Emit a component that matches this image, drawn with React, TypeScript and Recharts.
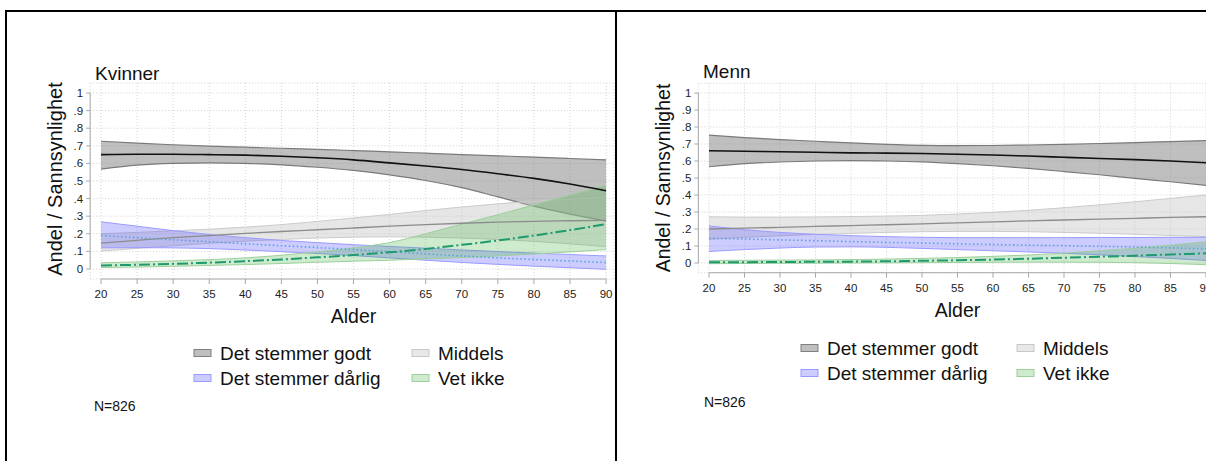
import React from 'react';
import {
  ComposedChart,
  Area,
  Line,
  XAxis,
  YAxis,
  CartesianGrid,
  ReferenceLine,
} from 'recharts';

const ages = [20, 25, 30, 35, 40, 45, 50, 55, 60, 65, 70, 75, 80, 85, 90];
const xTicks = [20, 25, 30, 35, 40, 45, 50, 55, 60, 65, 70, 75, 80, 85, 90];
const yTicks = [0, 0.1, 0.2, 0.3, 0.4, 0.5, 0.6, 0.7, 0.8, 0.9, 1];
const yTickLabels = ['0', '.1', '.2', '.3', '.4', '.5', '.6', '.7', '.8', '.9', '1'];

// Kvinner
const kvGodtMid = [0.65, 0.652, 0.652, 0.65, 0.647, 0.641, 0.632, 0.62, 0.603, 0.585, 0.565, 0.541, 0.515, 0.483, 0.445];
const kvGodtHi = [0.726, 0.715, 0.706, 0.698, 0.692, 0.686, 0.68, 0.673, 0.666, 0.658, 0.65, 0.643, 0.636, 0.628, 0.62];
const kvGodtLo = [0.568, 0.59, 0.6, 0.603, 0.6, 0.592, 0.578, 0.56, 0.535, 0.503, 0.462, 0.41, 0.357, 0.312, 0.272];
const kvMiddelsMid = [0.147, 0.163, 0.178, 0.19, 0.202, 0.213, 0.223, 0.233, 0.243, 0.252, 0.26, 0.266, 0.271, 0.274, 0.276];
const kvMiddelsHi = [0.2, 0.208, 0.217, 0.226, 0.238, 0.252, 0.27, 0.29, 0.31, 0.332, 0.352, 0.37, 0.386, 0.397, 0.405];
const kvMiddelsLo = [0.102, 0.117, 0.132, 0.146, 0.158, 0.168, 0.176, 0.181, 0.183, 0.181, 0.176, 0.168, 0.157, 0.143, 0.127];
const kvDarligMid = [0.19, 0.178, 0.166, 0.155, 0.143, 0.132, 0.122, 0.11, 0.098, 0.086, 0.074, 0.063, 0.054, 0.045, 0.037];
const kvDarligHi = [0.268, 0.243, 0.218, 0.196, 0.178, 0.162, 0.15, 0.138, 0.128, 0.118, 0.108, 0.099, 0.09, 0.082, 0.074];
const kvDarligLo = [0.12, 0.121, 0.12, 0.116, 0.108, 0.098, 0.088, 0.076, 0.063, 0.05, 0.037, 0.026, 0.016, 0.007, -0.002];
const kvVetIkkeMid = [0.02, 0.024, 0.029, 0.036, 0.044, 0.054, 0.066, 0.079, 0.095, 0.114, 0.137, 0.162, 0.19, 0.221, 0.255];
const kvVetIkkeHi = [0.035, 0.04, 0.046, 0.053, 0.063, 0.078, 0.097, 0.12, 0.15, 0.2, 0.255, 0.308, 0.364, 0.42, 0.476];
const kvVetIkkeLo = [0.008, 0.011, 0.015, 0.02, 0.025, 0.031, 0.038, 0.044, 0.05, 0.057, 0.065, 0.074, 0.085, 0.097, 0.11];

// Menn
const mnGodtMid = [0.66, 0.657, 0.654, 0.651, 0.648, 0.646, 0.644, 0.64, 0.635, 0.629, 0.622, 0.615, 0.608, 0.6, 0.59];
const mnGodtHi = [0.752, 0.738, 0.726, 0.716, 0.706, 0.698, 0.692, 0.69, 0.691, 0.694, 0.698, 0.703, 0.708, 0.714, 0.72];
const mnGodtLo = [0.566, 0.584, 0.594, 0.6, 0.602, 0.6, 0.595, 0.585, 0.572, 0.556, 0.538, 0.519, 0.498, 0.478, 0.457];
const mnMiddelsMid = [0.2, 0.205, 0.21, 0.215, 0.22, 0.225, 0.23, 0.236, 0.242, 0.248, 0.253, 0.258, 0.263, 0.268, 0.272];
const mnMiddelsHi = [0.272, 0.27, 0.27, 0.271, 0.273, 0.276, 0.28, 0.288, 0.298, 0.31, 0.325, 0.342, 0.36, 0.38, 0.4];
const mnMiddelsLo = [0.14, 0.151, 0.16, 0.168, 0.174, 0.18, 0.184, 0.186, 0.186, 0.184, 0.18, 0.175, 0.169, 0.162, 0.155];
const mnDarligMid = [0.145, 0.141, 0.136, 0.131, 0.126, 0.121, 0.117, 0.113, 0.109, 0.105, 0.102, 0.098, 0.094, 0.089, 0.084];
const mnDarligHi = [0.218, 0.196, 0.18, 0.169, 0.161, 0.155, 0.151, 0.149, 0.149, 0.149, 0.149, 0.15, 0.15, 0.151, 0.151];
const mnDarligLo = [0.068, 0.079, 0.088, 0.094, 0.095, 0.092, 0.086, 0.079, 0.072, 0.065, 0.057, 0.048, 0.038, 0.027, 0.015];
const mnVetIkkeMid = [0.005, 0.005, 0.006, 0.007, 0.008, 0.01, 0.013, 0.016, 0.02, 0.025, 0.031, 0.037, 0.043, 0.05, 0.057];
const mnVetIkkeHi = [0.015, 0.016, 0.017, 0.018, 0.02, 0.023, 0.027, 0.032, 0.039, 0.047, 0.058, 0.072, 0.087, 0.105, 0.125];
const mnVetIkkeLo = [-0.004, -0.003, -0.002, -0.001, 0, 0.001, 0.002, 0.003, 0.004, 0.005, 0.005, 0.004, 0.002, -0.003, -0.01];

const legendItems = [
  { label: 'Det stemmer godt', fill: '#bfbfbf', stroke: '#7f7f7f' },
  { label: 'Middels', fill: '#e8e8e8', stroke: '#c8c8c8' },
  { label: 'Det stemmer dårlig', fill: '#ccccff', stroke: '#9a9aff' },
  { label: 'Vet ikke', fill: '#ceebce', stroke: '#9ccf9c' },
];

const FONT = '"Liberation Sans", Arial, Helvetica, sans-serif';
const X_DOMAIN: [number, number] = [18.5, 91.1];
const Y_DOMAIN: [number, number] = [-0.057, 1.057];

type Series = {
  godt: number[][];
  middels: number[][];
  darlig: number[][];
  vetIkke: number[][];
};

const buildRows = (s: Series) =>
  ages.map((age, i) => ({
    age,
    godtBand: [s.godt[2][i], s.godt[1][i]],
    godtMid: s.godt[0][i],
    middelsBand: [s.middels[2][i], s.middels[1][i]],
    middelsMid: s.middels[0][i],
    darligBand: [s.darlig[2][i], s.darlig[1][i]],
    darligMid: s.darlig[0][i],
    vetIkkeBand: [s.vetIkke[2][i], s.vetIkke[1][i]],
    vetIkkeMid: s.vetIkke[0][i],
  }));

const kvinnerRows = buildRows({
  godt: [kvGodtMid, kvGodtHi, kvGodtLo],
  middels: [kvMiddelsMid, kvMiddelsHi, kvMiddelsLo],
  darlig: [kvDarligMid, kvDarligHi, kvDarligLo],
  vetIkke: [kvVetIkkeMid, kvVetIkkeHi, kvVetIkkeLo],
});

const mennRows = buildRows({
  godt: [mnGodtMid, mnGodtHi, mnGodtLo],
  middels: [mnMiddelsMid, mnMiddelsHi, mnMiddelsLo],
  darlig: [mnDarligMid, mnDarligHi, mnDarligLo],
  vetIkke: [mnVetIkkeMid, mnVetIkkeHi, mnVetIkkeLo],
});

const formatY = (v: number) => yTickLabels[yTicks.findIndex((t) => Math.abs(t - v) < 1e-6)] ?? '';

interface PanelProps {
  rows: ReturnType<typeof buildRows>;
  left: number;
  width: number;
  height: number;
  margin: { top: number; right: number; left: number; bottom: number };
}

const Panel: React.FC<PanelProps> = ({ rows, left, width, height, margin }) => (
  <div style={{ position: 'absolute', left, top: 0 }}>
    <ComposedChart width={width} height={height} data={rows} margin={margin}>
      <CartesianGrid stroke="#d2d2d2" strokeDasharray="1 2" />
      <XAxis
        dataKey="age"
        type="number"
        domain={X_DOMAIN}
        ticks={xTicks}
        interval={0}
        allowDataOverflow
        axisLine={false}
        tickLine={{ stroke: '#a8a8a8' }}
        tickSize={5}
        tickMargin={6}
        height={30}
        tick={{ fontSize: 11.5, fill: '#222', fontFamily: FONT }}
      />
      <YAxis
        type="number"
        domain={Y_DOMAIN}
        ticks={yTicks}
        interval={0}
        allowDataOverflow
        axisLine={false}
        tickLine={{ stroke: '#a8a8a8' }}
        tickSize={4}
        tickMargin={3}
        width={40}
        tickFormatter={formatY}
        tick={{ fontSize: 11.5, fill: '#222', fontFamily: FONT }}
      />
      {/* axis lines only span the tick range */}
      <ReferenceLine
        segment={[{ x: X_DOMAIN[0], y: 0 }, { x: X_DOMAIN[0], y: 1 }]}
        stroke="#a8a8a8"
        ifOverflow="visible"
      />
      <ReferenceLine
        segment={[{ x: 20, y: Y_DOMAIN[0] }, { x: 90, y: Y_DOMAIN[0] }]}
        stroke="#a8a8a8"
        ifOverflow="visible"
      />

      <Area type="monotone" dataKey="godtBand" fill="#808080" fillOpacity={0.5} stroke="#7a7a7a" strokeWidth={1.2} isAnimationActive={false} />
      <Area type="monotone" dataKey="middelsBand" fill="#c4c4c4" fillOpacity={0.42} stroke="#cacaca" strokeWidth={1} isAnimationActive={false} />
      <Area type="monotone" dataKey="darligBand" fill="#5555ff" fillOpacity={0.3} stroke="#9a9aff" strokeWidth={1} isAnimationActive={false} />
      <Area type="monotone" dataKey="vetIkkeBand" fill="#3cae3c" fillOpacity={0.25} stroke="#9ccf9c" strokeWidth={1} isAnimationActive={false} />

      <Line type="monotone" dataKey="godtMid" stroke="#111" strokeWidth={1.6} dot={false} activeDot={false} isAnimationActive={false} />
      <Line type="monotone" dataKey="middelsMid" stroke="#8c8c8c" strokeWidth={1.3} dot={false} activeDot={false} isAnimationActive={false} />
      <Line type="monotone" dataKey="darligMid" stroke="#4aa8e8" strokeWidth={1.6} strokeDasharray="1.5 2.5" dot={false} activeDot={false} isAnimationActive={false} />
      <Line type="monotone" dataKey="vetIkkeMid" stroke="#1e9a6e" strokeWidth={2} strokeDasharray="11 3 2 3" dot={false} activeDot={false} isAnimationActive={false} />
    </ComposedChart>
  </div>
);

// titles, legend and notes for one panel
const Annotations: React.FC<{
  title: string;
  titlePos: [number, number];
  yLabelPos: [number, number];
  yLabelSize: number;
  xLabelPos: [number, number];
  legendX: [number, number];
  legendY: number;
  notePos: [number, number];
}> = ({ title, titlePos, yLabelPos, yLabelSize, xLabelPos, legendX, legendY, notePos }) => (
  <g fontFamily={FONT} fill="#111">
    <text x={titlePos[0]} y={titlePos[1]} fontSize={19}>
      {title}
    </text>
    <text
      x={yLabelPos[0]}
      y={yLabelPos[1]}
      fontSize={yLabelSize}
      textAnchor="middle"
      transform={`rotate(-90 ${yLabelPos[0]} ${yLabelPos[1]})`}
    >
      Andel / Sannsynlighet
    </text>
    <text x={xLabelPos[0]} y={xLabelPos[1]} fontSize={19.5} textAnchor="middle">
      Alder
    </text>
    {legendItems.map((item, i) => {
      const col = i % 2;
      const row = Math.floor(i / 2);
      const x = legendX[col];
      const y = legendY + row * 25;
      return (
        <g key={item.label}>
          <rect x={x} y={y - 10.5} width={17} height={7} fill={item.fill} stroke={item.stroke} strokeWidth={1} />
          <text x={x + 26} y={y} fontSize={19}>
            {item.label}
          </text>
        </g>
      );
    })}
    <text x={notePos[0]} y={notePos[1]} fontSize={14}>
      N=826
    </text>
  </g>
);

export default function App() {
  return (
    <div
      style={{
        position: 'relative',
        width: 1206,
        height: 461,
        overflow: 'hidden',
        background: '#fff',
        fontFamily: FONT,
      }}
    >
      <style>{'body{margin:0}'}</style>
      <Panel
        rows={kvinnerRows}
        left={0}
        width={620}
        height={309}
        margin={{ top: 83, right: 6, left: 50.2, bottom: 0 }}
      />
      <Panel
        rows={mennRows}
        left={608}
        width={612}
        height={302.7}
        margin={{ top: 83.3, right: 6.2, left: 50.35, bottom: 0 }}
      />
      <svg
        width={1206}
        height={461}
        style={{ position: 'absolute', left: 0, top: 0, pointerEvents: 'none' }}
      >
        <Annotations
          title="Kvinner"
          titlePos={[95, 79.5]}
          yLabelPos={[62, 179]}
          yLabelSize={20}
          xLabelPos={[353.5, 322.5]}
          legendX={[194, 412]}
          legendY={360}
          notePos={[94, 410.5]}
        />
        <Annotations
          title="Menn"
          titlePos={[703, 77.5]}
          yLabelPos={[670, 178]}
          yLabelSize={19.5}
          xLabelPos={[957.5, 316.5]}
          legendX={[801, 1017]}
          legendY={355}
          notePos={[704, 406.5]}
        />
      </svg>
      {/* frame: top edge, left edge and panel divider */}
      <div style={{ position: 'absolute', left: 5, top: 10, width: 1201, height: 2, background: '#000' }} />
      <div style={{ position: 'absolute', left: 5, top: 10, width: 2, height: 451, background: '#000' }} />
      <div style={{ position: 'absolute', left: 615, top: 10, width: 2, height: 451, background: '#000' }} />
    </div>
  );
}
